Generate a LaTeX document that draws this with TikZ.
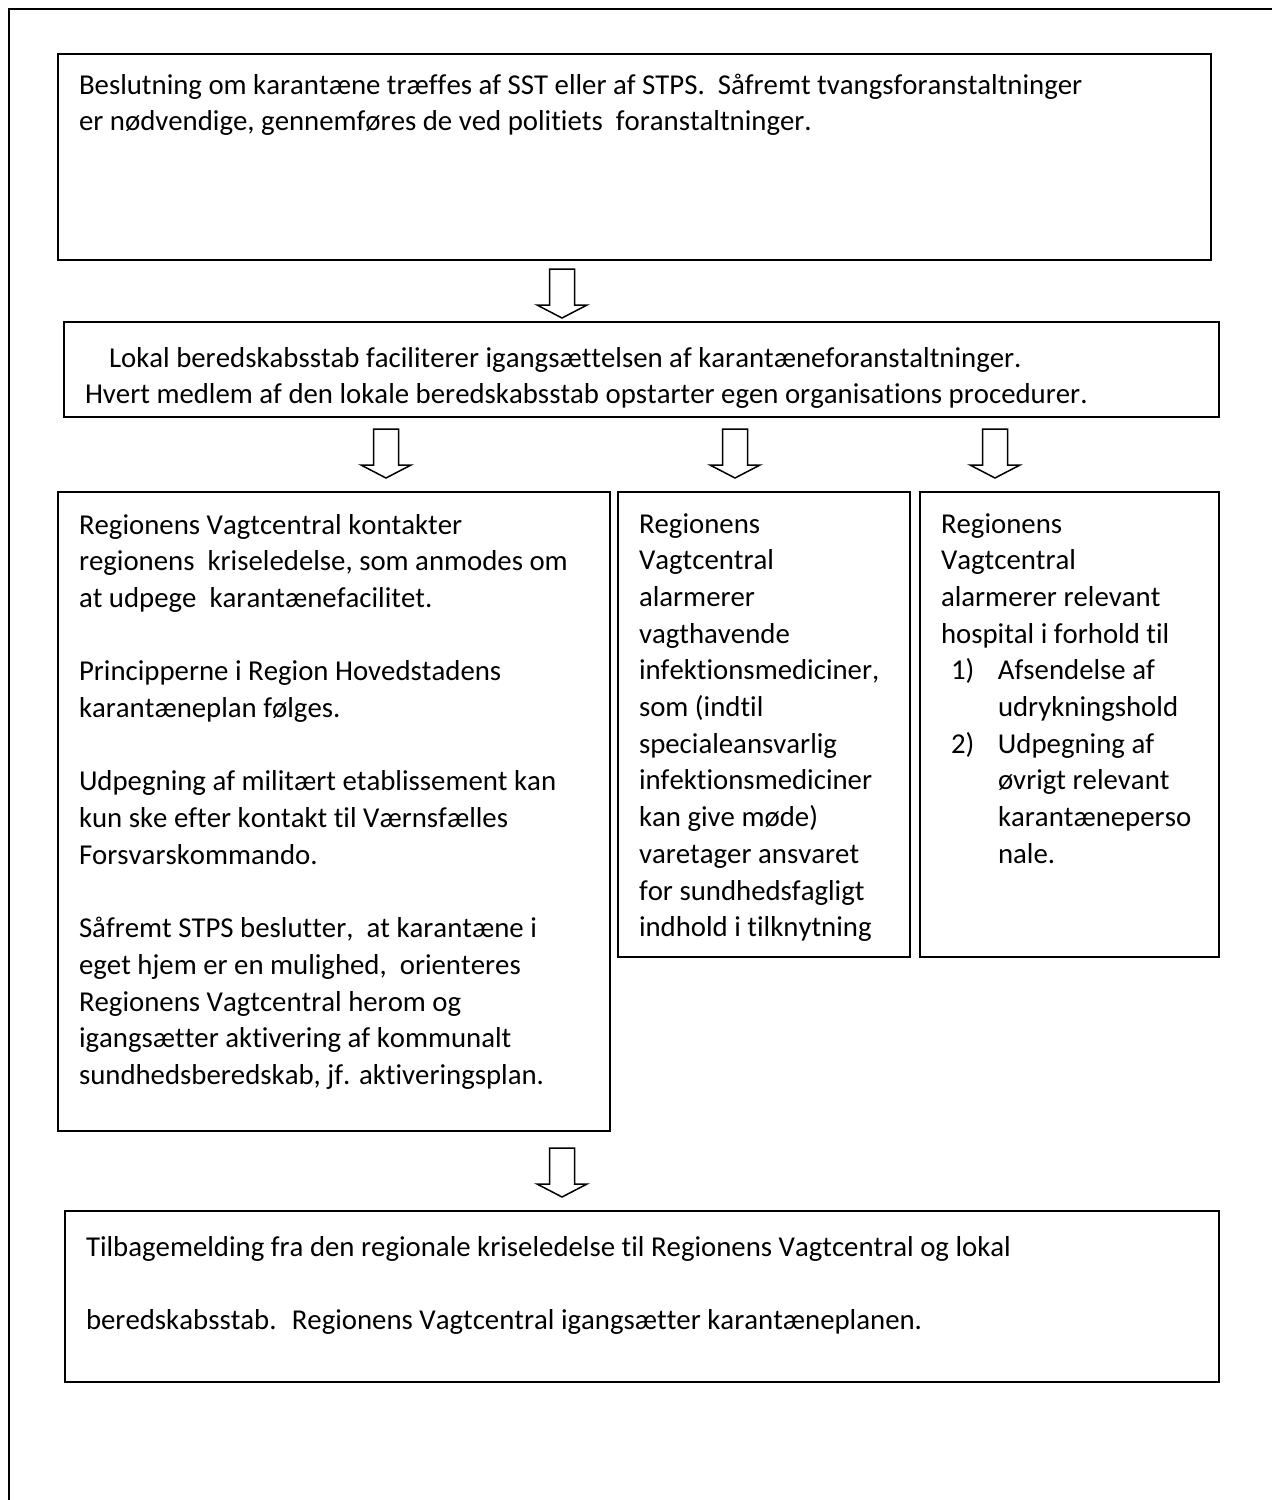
\documentclass[tikz,border=0pt]{standalone}
\usepackage{fontspec}
\setmainfont{Carlito}[Ligatures=NoCommon, Kerning=Off]
\usepackage{tikz}
\usetikzlibrary{positioning}

% block arrow pointing down, #1 = top centre of the shaft
\newcommand{\blockdown}[1]{%
  \draw[flow] ([xshift=-6.25pt]#1) -- ++(0,36) -- ++(-12.5,0) -- ++(25,13)
    -- ++(25,-13) -- ++(-12.5,0) -- ++(0,-36) -- cycle;}

\begin{document}
\begin{tikzpicture}[
        x=0.5pt, y=-0.5pt,
        panel/.style={
            rectangle,
            draw=black,
            line width=1pt,
            fill=white,
            anchor=north west,
            inner xsep=10.5pt,
            inner ysep=0pt,
            align=flush left,
            font=\fontsize{14.4pt}{18.35pt}\selectfont
        },
        flow/.style={draw=black, line width=0.75pt, fill=white}
    ]

    \useasboundingbox (0,0) rectangle (1272,1500);
    \draw[line width=1pt] (1272,9) -- (9,9) -- (9,1500);

    \node (besl) [panel, text width=555.5pt, text height=20pt, text depth=83pt] at (57,53) {
        Beslutning om karantæne træffes af SST eller af STPS.~ Såfremt tvangsforanstaltninger\\
        er nødvendige, gennemføres de ved politiets~ foranstaltninger.};

    \node (lokal) [panel, text width=556.5pt, text height=22.5pt, text depth=25pt] at (63,321) {
        \hspace*{12pt}Lokal beredskabsstab faciliterer igangsættelsen af karantæneforanstaltninger.\\
        Hvert medlem af den lokale beredskabsstab opstarter egen organisations procedurer.};

    \node (krise) [panel, text width=255pt, text height=21pt, text depth=298.5pt] at (57,491) {
        Regionens Vagtcentral kontakter\\
        regionens~ kriseledelse, som anmodes om\\
        at udpege~ karantænefacilitet.\\[18.35pt]
        Principperne i Region Hovedstadens\\
        karantæneplan følges.\\[18.35pt]
        Udpegning af militært etablissement kan\\
        kun ske efter kontakt til Værnsfælles\\
        Forsvarskommando.\\[18.35pt]
        Såfremt STPS beslutter,~ at karantæne i\\
        eget hjem er en mulighed,~ orienteres\\
        Regionens Vagtcentral herom og\\
        igangsætter aktivering af kommunalt\\
        sundhedsberedskab, jf. aktiveringsplan.};

    \node (infek) [panel, text width=125pt, text height=20.5pt, text depth=212pt] at (617,491) {
        Regionens\\
        Vagtcentral\\
        alarmerer\\
        vagthavende\\
        infektionsmediciner,\\
        som (indtil\\
        specialeansvarlig\\
        infektionsmediciner\\
        kan give møde)\\
        varetager ansvaret\\
        for sundhedsfagligt\\
        indhold i tilknytning};

    \node (hosp) [panel, text width=128.5pt, text height=20.5pt, text depth=212pt] at (919,491) {
        Regionens\\
        Vagtcentral\\
        alarmerer relevant\\
        hospital i forhold til\\
        \hspace*{5pt}\makebox[23.5pt][l]{1)}Afsendelse af\\
        \hspace*{28.5pt}udrykningshold\\
        \hspace*{5pt}\makebox[23.5pt][l]{2)}Udpegning af\\
        \hspace*{28.5pt}øvrigt relevant\\
        \hspace*{28.5pt}karantæneperso\\
        \hspace*{28.5pt}nale.};

    \node (tilbage) [panel, text width=556pt, text height=22.5pt, text depth=63pt] at (64,1210) {
        Tilbagemelding fra den regionale kriseledelse til Regionens Vagtcentral og lokal\\[18.35pt]
        beredskabsstab.~ Regionens Vagtcentral igangsætter karantæneplanen.};

    % block arrows between the steps
    \coordinate (a1) at (562,269);
    \coordinate (a2) at (386,429);
    \coordinate (a3) at (735,429);
    \coordinate (a4) at (995,429);
    \coordinate (a5) at (562,1148);
    \foreach \a in {a1,a2,a3,a4,a5} {\blockdown{\a}}

\end{tikzpicture}
\end{document}
